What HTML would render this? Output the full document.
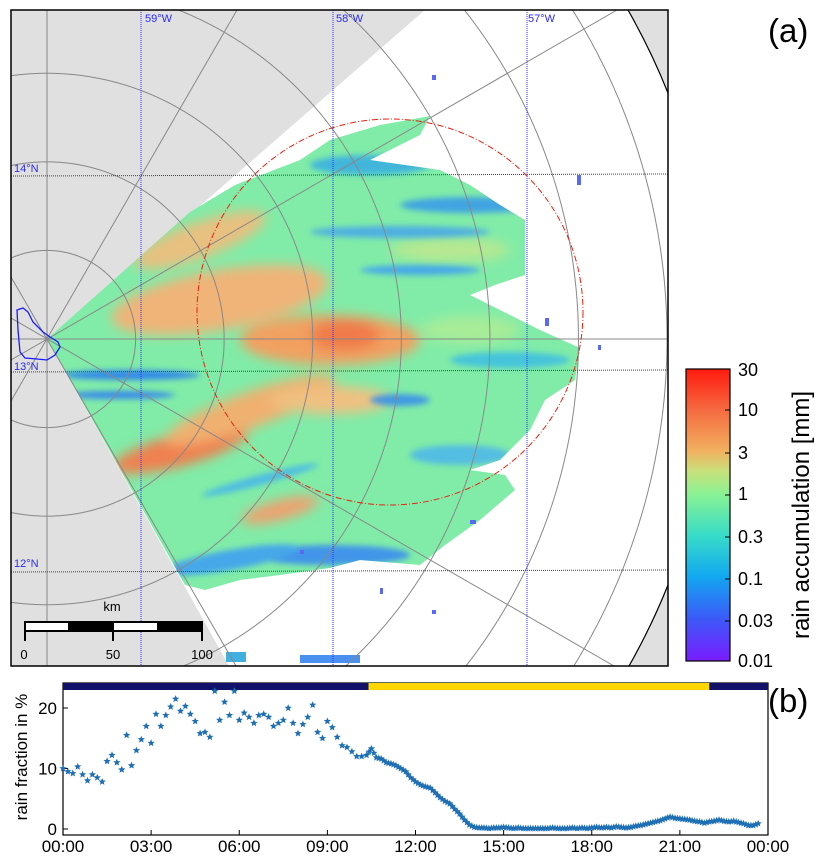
<!DOCTYPE html>
<html><head><meta charset="utf-8">
<style>
html,body{margin:0;padding:0;background:#fff;width:824px;height:862px;overflow:hidden;}
body{position:relative;font-family:"Liberation Sans","DejaVu Sans",sans-serif;}
svg{position:absolute;left:0;top:0;overflow:hidden;display:block;}
</style></head>
<body>
<svg id="fig" width="824" height="862" viewBox="0 0 824 862">
<defs>
  <clipPath id="mapclip"><rect x="11" y="10" width="657" height="656"/></clipPath>
  <clipPath id="rainclip">
    <path d="M47,339 L190,212 L235,185 L300,160 L330,140 L380,125 L430,116 L420,135 L370,160 L440,170 L470,185 L500,205 L525,220 L525,275 L495,285 L470,295 L500,310 L540,330 L580,348 L575,380 L545,400 L530,430 L500,460 L470,470 L505,475 L515,490 L480,520 L445,545 L420,565 L360,560 L330,568 L280,575 L240,580 L205,590 L185,585 Z"/>
  </clipPath>
  <filter id="blur6" x="-30%" y="-30%" width="160%" height="160%"><feGaussianBlur stdDeviation="6"/></filter>
  <filter id="blur3" x="-30%" y="-30%" width="160%" height="160%"><feGaussianBlur stdDeviation="3"/></filter>
  <linearGradient id="cbgrad" x1="0" y1="1" x2="0" y2="0">
    <stop offset="0" stop-color="#7a1cff"/>
    <stop offset="0.15" stop-color="#3a5cf8"/>
    <stop offset="0.29" stop-color="#12a8f0"/>
    <stop offset="0.43" stop-color="#38dcc8"/>
    <stop offset="0.57" stop-color="#88f294"/>
    <stop offset="0.65" stop-color="#c8e07a"/>
    <stop offset="0.72" stop-color="#f2b060"/>
    <stop offset="0.86" stop-color="#f56a40"/>
    <stop offset="1" stop-color="#ff1a0e"/>
  </linearGradient>
</defs>

<g clip-path="url(#mapclip)">
  <rect x="11" y="10" width="657" height="656" fill="#e0e0e0"/>
  <path d="M47,339 L425,10 L628,10 A668,668 0 0 1 668,93 L668,585 A668,668 0 0 1 629,666 L229,666 Z" fill="#ffffff"/>
  <g clip-path="url(#rainclip)">
    <rect x="40" y="100" width="560" height="500" fill="#80eca8"/>
    <g filter="url(#blur6)">
      <ellipse cx="330" cy="340" rx="90" ry="25" fill="#f2a060"/>
      <ellipse cx="345" cy="335" rx="35" ry="15" fill="#f07a48"/>
      <ellipse cx="220" cy="300" rx="110" ry="30" fill="#f0b478" transform="rotate(-10 220 300)"/>
      <ellipse cx="200" cy="240" rx="70" ry="18" fill="#e8c080" transform="rotate(-20 200 240)"/>
      <ellipse cx="180" cy="450" rx="70" ry="16" fill="#f08050" transform="rotate(-15 180 450)"/>
      <ellipse cx="250" cy="410" rx="90" ry="18" fill="#f0b070" transform="rotate(-20 250 410)"/>
      <ellipse cx="330" cy="400" rx="60" ry="14" fill="#f0c080"/>
      <ellipse cx="280" cy="510" rx="40" ry="10" fill="#f0a070" transform="rotate(-15 280 510)"/>
      <ellipse cx="470" cy="330" rx="50" ry="14" fill="#a8ec98"/>
      <ellipse cx="450" cy="250" rx="60" ry="12" fill="#b8e890"/>
    </g>
    <g filter="url(#blur3)" opacity="0.9">
      <ellipse cx="470" cy="205" rx="70" ry="8" fill="#3a9ce8"/>
      <ellipse cx="400" cy="232" rx="90" ry="6" fill="#4aa8e8"/>
      <ellipse cx="420" cy="270" rx="60" ry="5" fill="#40a0f0"/>
      <ellipse cx="370" cy="165" rx="60" ry="10" fill="#3ab0e0"/>
      <ellipse cx="130" cy="375" rx="70" ry="5" fill="#2a7ef0"/>
      <ellipse cx="120" cy="395" rx="55" ry="4" fill="#3080f0"/>
      <ellipse cx="400" cy="400" rx="30" ry="6" fill="#3a90e8"/>
      <ellipse cx="460" cy="455" rx="50" ry="10" fill="#50b8e8"/>
      <ellipse cx="330" cy="555" rx="80" ry="10" fill="#3a8cf0"/>
      <ellipse cx="230" cy="560" rx="70" ry="10" fill="#40a0f0" transform="rotate(-10 230 560)"/>
      <ellipse cx="510" cy="360" rx="60" ry="8" fill="#40c0e0"/>
      <ellipse cx="260" cy="480" rx="60" ry="5" fill="#48b8e8" transform="rotate(-15 260 480)"/>
    </g>
  </g>
  <g fill="#5a6af0">
    <rect x="432" y="75" width="4" height="5"/><rect x="380" y="588" width="3" height="6"/>
    <rect x="545" y="318" width="4" height="8"/><rect x="598" y="345" width="3" height="5"/>
    <rect x="577" y="175" width="4" height="10"/><rect x="432" y="610" width="4" height="4"/>
    <rect x="300" y="655" width="60" height="8" fill="#4a90f0"/><rect x="226" y="652" width="20" height="10" fill="#40b0e0"/>
    <rect x="300" y="550" width="4" height="4"/><rect x="470" y="520" width="6" height="4"/>
  </g>
  <g id="rings" fill="none" stroke="#888" stroke-width="1"></g>
  <path d="M628,10 A668,668 0 0 1 668,93 M668,585 A668,668 0 0 1 629,666" fill="none" stroke="#000" stroke-width="1.2"/>
  <g stroke="#888" stroke-width="1">
    <line x1="47" y1="10" x2="47" y2="666"/>
    <line x1="11" y1="339" x2="668" y2="339"/>
    <line x1="11" y1="360" x2="617" y2="10"/>
    <line x1="11" y1="318" x2="614" y2="666"/>
    <line x1="11" y1="401" x2="237" y2="10"/>
    <line x1="11" y1="277" x2="236" y2="666"/>
  </g>
  <g stroke="#2a2aff" stroke-width="1" stroke-dasharray="1,1">
    <line x1="141" y1="10" x2="141" y2="666"/>
    <line x1="333" y1="10" x2="333" y2="666"/>
    <line x1="527" y1="10" x2="527" y2="666"/>
    <line x1="11" y1="176" x2="668" y2="174"/>
    <line x1="11" y1="372" x2="668" y2="370"/>
    <line x1="11" y1="572" x2="668" y2="570"/>
  </g>
  <circle cx="390" cy="312" r="193" fill="none" stroke="#e82010" stroke-width="1" stroke-dasharray="6,2,1,2"/>
  <path d="M17,310 L23,308 L28,312 L33,322 L43,332 L50,337 L58,342 L60,347 L55,355 L47,360 L37,359 L25,358 L20,352 L18,330 Z" fill="none" stroke="#1a1aff" stroke-width="1.3"/>
  <g font-size="11" fill="#2a2aff">
    <text x="145" y="22">59°W</text>
    <text x="336" y="22">58°W</text>
    <text x="528" y="22">57°W</text>
    <text x="14" y="172">14°N</text>
    <text x="14" y="370">13°N</text>
    <text x="14" y="567">12°N</text>
  </g>
  <g>
    <rect x="24" y="621" width="179" height="11" fill="#000"/>
    <rect x="26" y="623" width="42" height="7" fill="#fff"/>
    <rect x="114" y="623" width="43" height="7" fill="#fff"/>
    <line x1="25" y1="632" x2="25" y2="641" stroke="#000" stroke-width="2"/>
    <line x1="113" y1="632" x2="113" y2="641" stroke="#000" stroke-width="2"/>
    <line x1="202" y1="632" x2="202" y2="641" stroke="#000" stroke-width="2"/>
    <text x="112" y="611" font-size="13" text-anchor="middle">km</text>
    <text x="24" y="659" font-size="13" text-anchor="middle">0</text>
    <text x="113" y="659" font-size="13" text-anchor="middle">50</text>
    <text x="202" y="659" font-size="13" text-anchor="middle">100</text>
  </g>
</g>
<rect x="11" y="10" width="657" height="656" fill="none" stroke="#000" stroke-width="1.5"/>
<text x="768" y="42" font-size="33">(a)</text>

<g>
  <rect x="686" y="369" width="44" height="292" fill="url(#cbgrad)" stroke="#000" stroke-width="1.2"/>
  <g font-size="18" fill="#000">
    <text x="738" y="376">30</text><text x="738" y="416">10</text><text x="738" y="459">3</text>
    <text x="738" y="500">1</text><text x="738" y="543">0.3</text><text x="738" y="585">0.1</text>
    <text x="738" y="627">0.03</text><text x="738" y="667">0.01</text>
  </g>
  <g stroke="#000" stroke-width="1">
    <line x1="725" y1="410" x2="730" y2="410"/><line x1="725" y1="453" x2="730" y2="453"/>
    <line x1="725" y1="495" x2="730" y2="495"/><line x1="725" y1="537" x2="730" y2="537"/>
    <line x1="725" y1="579" x2="730" y2="579"/><line x1="725" y1="621" x2="730" y2="621"/>
  </g>
  <text transform="translate(809,515) rotate(-90)" font-size="24" text-anchor="middle">rain accumulation [mm]</text>
</g>

<g id="ts"></g>
<text x="768" y="712" font-size="33">(b)</text>
</svg>
<script>
const hourTicks = [0,3,6,9,12,15,18,21,24];
const hourTickLabels = ["00:00","03:00","06:00","09:00","12:00","15:00","18:00","21:00","00:00"];
const yTicks = [0,10,20];
const dayStart = 10.4;
const dayEnd = 22.0;
const stepHours = 1/6;
const rainFraction = [
 10.0,9.5,9.2,10.3,9.0,8.0,9.0,8.5,7.8,11.2,12.2,11.0,
 9.8,15.5,10.5,13.0,14.8,17.0,14.2,19.0,17.0,18.8,20.2,21.5,
 19.5,20.3,19.0,17.8,15.8,16.0,15.2,22.8,18.0,21.0,18.8,22.8,
 18.0,19.2,18.5,17.5,18.8,19.0,18.5,17.0,17.5,18.0,20.0,17.5,
 15.8,17.3,18.5,20.5,16.0,15.0,17.8,16.8,15.2,13.8,13.5,12.8,
 12.0,12.0,12.2,13.3,11.8,11.6,11.0,10.8,10.5,10.0,9.5,8.5,
 7.8,7.3,7.0,6.8,6.0,5.2,4.6,4.2,3.3,2.5,1.5,0.7,
 0.3,0.2,0.2,0.1,0.2,0.2,0.3,0.2,0.1,0.2,0.1,0.1,
 0.1,0.1,0.1,0.1,0.2,0.1,0.1,0.1,0.2,0.1,0.2,0.1,
 0.2,0.3,0.2,0.3,0.2,0.4,0.3,0.2,0.3,0.5,0.6,0.8,
 1.0,1.2,1.4,1.7,2.0,1.8,1.7,1.6,1.5,1.3,1.2,1.0,
 1.2,1.3,1.5,1.3,1.2,1.3,1.1,0.9,0.6,0.6,0.9
];
const ringRadiiKm = [25,50,75,100,125,150,175];
(function(){
  const NS="http://www.w3.org/2000/svg";
  // range rings, clipped to the map frame
  const rg=document.getElementById('rings');
  const cx=47,cy=339,pxPerKm=3.543;
  ringRadiiKm.forEach(km=>{
    const r=km*pxPerKm;let d='',pen=false;
    for(let a=0;a<=3600;a++){
      const t=a/1800*Math.PI;const x=cx+r*Math.cos(t),y=cy+r*Math.sin(t);
      const inside=x>=11&&x<=668&&y>=10&&y<=666;
      if(inside){d+=(pen?'L':'M')+x.toFixed(1)+','+y.toFixed(1);pen=true;}else pen=false;
    }
    const p=document.createElementNS(NS,'path');p.setAttribute('d',d);rg.appendChild(p);
    
    
  });
  const g=document.getElementById('ts');
  const X0=63,X1=768,Ytop=683,Ybot=835;
  const xs=h=>X0+(h/24)*(X1-X0);
  const ys=v=>829-v*6.05;
  function el(t,a,p){const e=document.createElementNS(NS,t);for(const k in a)e.setAttribute(k,a[k]);(p||g).appendChild(e);return e;}
  const ax=el('rect',{x:X0,y:Ytop,width:X1-X0,height:Ybot-Ytop,fill:'none',stroke:'#000','stroke-width':1.2});
  
  
  const night=el('rect',{x:X0,y:Ytop,width:X1-X0,height:7,fill:'#12126a'});
  
  
  const day=el('rect',{x:xs(dayStart),y:Ytop,width:xs(dayEnd)-xs(dayStart),height:7,fill:'#ffd700'});
  
  
  hourTicks.forEach((h,i)=>{
    const x=xs(h);
    el('line',{x1:x,y1:Ybot,x2:x,y2:Ybot-5,stroke:'#000'});
    const t=el('text',{x:x,y:852,'font-size':17,'text-anchor':'middle'});
    t.textContent=hourTickLabels[i];
    
    
  });
  yTicks.forEach(v=>{
    const y=ys(v);
    el('line',{x1:X0,y1:y,x2:X0+5,y2:y,stroke:'#000'});
    const t=el('text',{x:57,y:y+6,'font-size':17,'text-anchor':'end'});
    t.textContent=String(v);
    
    
  });
  const yt=el('text',{transform:'translate(27,757) rotate(-90)','font-size':17,'text-anchor':'middle'});
  yt.textContent='rain fraction in %';
  
  
  const sg=el('g',{fill:'#1f6fb4'});
  
  
  function star(cx,cy,r){let d='';for(let k=0;k<10;k++){const a=-Math.PI/2+k*Math.PI/5;const rr=k%2?r*0.45:r;d+=(k?'L':'M')+(cx+rr*Math.cos(a)).toFixed(1)+','+(cy+rr*Math.sin(a)).toFixed(1);}return d+'Z';}
  rainFraction.forEach((v,i)=>{
    const h=i*stepHours;
    const p=el('path',{d:star(xs(h),ys(v),3.8)},sg);
    
    
    if(i<rainFraction.length-1 && h>=10.3){
      const v2=rainFraction[i+1];
      const p2=el('path',{d:star((xs(h)+xs(h+stepHours))/2,ys((v+v2)/2),3.8)},sg);
      
      
    }
  });
})();
</script>
</body></html>
